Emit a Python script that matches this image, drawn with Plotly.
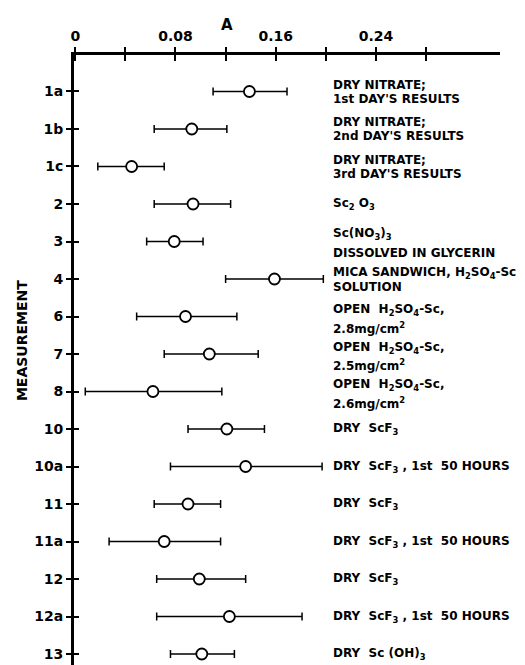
import plotly.graph_objects as go

# ---- data ----
measurements = ["1a", "1b", "1c", "2", "3", "4", "6", "7", "8", "10", "10a", "11", "11a", "12", "12a", "13"]
a_value = [0.139, 0.093, 0.045, 0.094, 0.079, 0.159, 0.088, 0.107, 0.062, 0.121, 0.136, 0.090, 0.071, 0.099, 0.123, 0.101]
a_low = [0.110, 0.063, 0.018, 0.063, 0.057, 0.120, 0.049, 0.071, 0.008, 0.090, 0.076, 0.063, 0.027, 0.065, 0.065, 0.076]
a_high = [0.169, 0.121, 0.071, 0.124, 0.102, 0.198, 0.129, 0.146, 0.117, 0.151, 0.197, 0.116, 0.116, 0.136, 0.181, 0.127]

label_line1 = [
    "DRY NITRATE;", "DRY NITRATE;", "DRY NITRATE;",
    "Sc<sub>2</sub> O<sub>3</sub>",
    "Sc(NO<sub>3</sub>)<sub>3</sub>",
    "MICA SANDWICH, H<sub>2</sub>SO<sub>4</sub>-Sc",
    "OPEN  H<sub>2</sub>SO<sub>4</sub>-Sc,",
    "OPEN  H<sub>2</sub>SO<sub>4</sub>-Sc,",
    "OPEN  H<sub>2</sub>SO<sub>4</sub>-Sc,",
    "DRY  ScF<sub>3</sub>",
    "DRY  ScF<sub>3</sub> , 1st  50 HOURS",
    "DRY  ScF<sub>3</sub>",
    "DRY  ScF<sub>3</sub> , 1st  50 HOURS",
    "DRY  ScF<sub>3</sub>",
    "DRY  ScF<sub>3</sub> , 1st  50 HOURS",
    "DRY  Sc (OH)<sub>3</sub>",
]
label_line2 = [
    "1st DAY'S RESULTS", "2nd DAY'S RESULTS", "3rd DAY'S RESULTS",
    "", "DISSOLVED IN GLYCERIN", "SOLUTION",
    "2.8mg/cm<sup>2</sup>", "2.5mg/cm<sup>2</sup>", "2.6mg/cm<sup>2</sup>",
    "", "", "", "", "", "", "",
]
label_x = 0.2045

x_tickvals = [0, 0.04, 0.08, 0.12, 0.16, 0.20, 0.24, 0.28]
x_ticktext = ["0", "", "0.08", "", "0.16", "", "0.24", ""]
x_range = [-0.001, 0.339]
y_range = [15.293, -0.973]

# style: vertical pixel offsets (up, down) of the two label lines for each row
line_shift = [(6.5, -7.5), (6.5, -7.5), (6.5, -7.5), (0, 0), (8, -11), (6.5, -7.5),
              (6.5, -11), (6.5, -11), (6.5, -11), (0, 0), (0, 0), (0, 0), (0, 0), (0, 0), (0, 0), (0, 0)]

FONT = "DejaVu Sans"
err_plus = [h - v for h, v in zip(a_high, a_value)]
err_minus = [v - l for v, l in zip(a_value, a_low)]

fig = go.Figure()
fig.add_trace(go.Scatter(
    x=a_value, y=measurements, mode="markers",
    marker=dict(symbol="circle", size=11, color="white", line=dict(color="black", width=1.8)),
    error_x=dict(type="data", symmetric=False, array=err_plus, arrayminus=err_minus,
                 color="black", thickness=1.5, width=4),
    showlegend=False, hoverinfo="skip",
))
# invisible helper trace for the overlaid axes (inner tick halves)
fig.add_trace(go.Scatter(
    x=a_value, y=measurements, xaxis="x2", yaxis="y2", mode="markers",
    marker=dict(opacity=0), showlegend=False, hoverinfo="skip",
))

axis_common = dict(showgrid=False, zeroline=False, automargin=False)
fig.update_layout(
    width=517, height=657,
    margin=dict(l=65.5, r=24.5, t=46.5, b=0),
    paper_bgcolor="white", plot_bgcolor="white",
    font=dict(family=FONT, color="black"),
    xaxis=dict(side="top", range=x_range, tickvals=x_tickvals, ticktext=x_ticktext,
               showline=True, linecolor="black", linewidth=3, mirror=False,
               ticks="outside", ticklen=5, tickwidth=2, tickcolor="black",
               tickfont=dict(family=FONT, size=14, weight="bold"), **axis_common),
    yaxis=dict(type="category", categoryorder="array", categoryarray=measurements,
               range=y_range, showline=True, linecolor="black", linewidth=3,
               ticks="outside", ticklen=5, tickwidth=2, tickcolor="black",
               tickfont=dict(family=FONT, size=14, weight="bold"), **axis_common),
    xaxis2=dict(overlaying="x", side="top", range=x_range, tickvals=x_tickvals,
                showticklabels=False, ticks="inside", ticklen=6, tickwidth=2,
                tickcolor="black", showline=False, **axis_common),
    yaxis2=dict(overlaying="y", type="category", categoryorder="array", categoryarray=measurements,
                range=y_range, showticklabels=False, ticks="inside", ticklen=5, tickwidth=2,
                tickcolor="black", showline=False, **axis_common),
)

annotations = [
    dict(text="A", x=0.121, xref="x", y=1, yref="paper", yshift=30.5, yanchor="middle",
         showarrow=False, font=dict(family=FONT, size=15, weight="bold")),
    dict(text="MEASUREMENT", x=-0.1206, xref="paper", xanchor="center", y=0.532, yref="paper",
         showarrow=False, textangle=-90, font=dict(family=FONT, size=14, weight="bold")),
]

lab_font = dict(family=FONT, size=12, weight="bold")
for i, (l1, l2) in enumerate(zip(label_line1, label_line2)):
    up, down = line_shift[i]
    if l2:
        annotations.append(dict(text=l1, x=label_x, y=i, xref="x", yref="y", xanchor="left",
                                yanchor="middle", yshift=up, showarrow=False, font=lab_font))
        annotations.append(dict(text=l2, x=label_x, y=i, xref="x", yref="y", xanchor="left",
                                yanchor="middle", yshift=down, showarrow=False, font=lab_font))
    else:
        annotations.append(dict(text=l1, x=label_x, y=i, xref="x", yref="y", xanchor="left",
                                yanchor="middle", showarrow=False, font=lab_font))
fig.update_layout(annotations=annotations)

fig.write_html("out.html")
